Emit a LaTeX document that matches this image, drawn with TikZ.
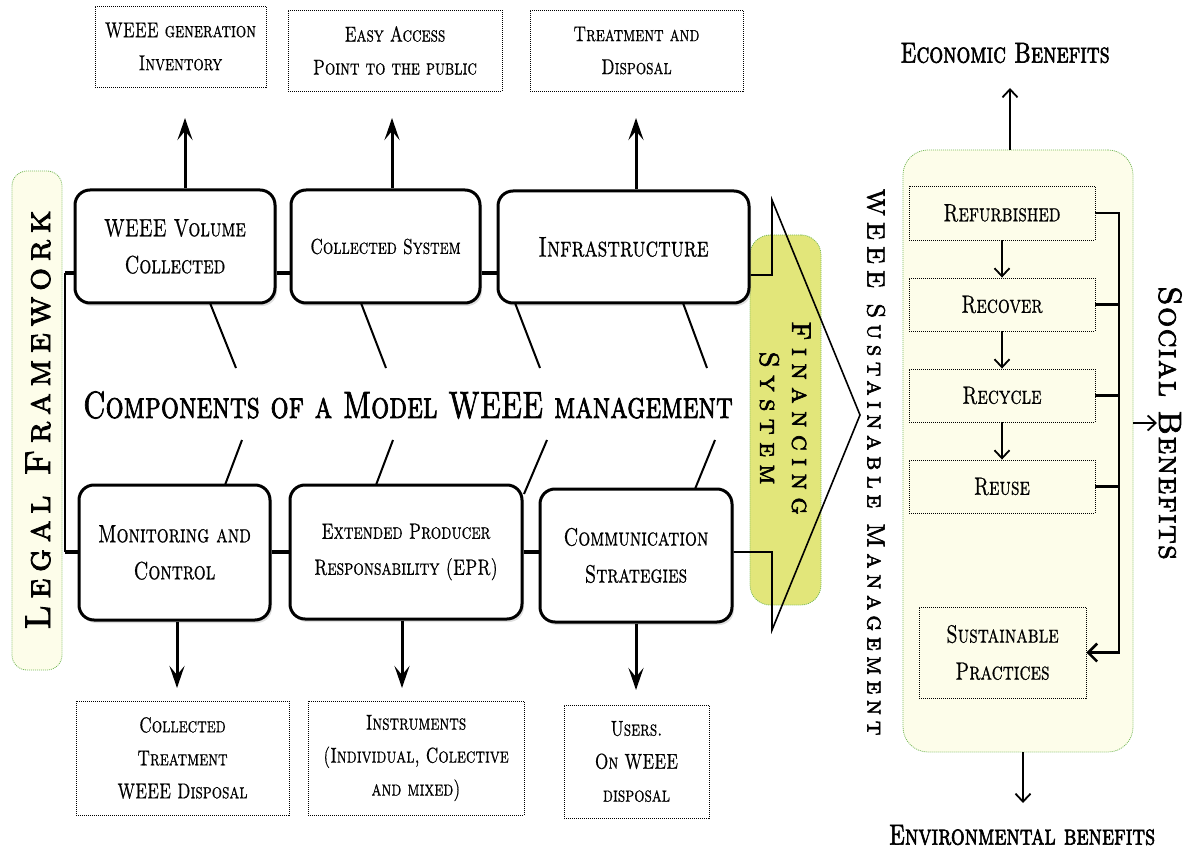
\documentclass[tikz,border=0pt]{standalone}
\usepackage{fontspec}
\usetikzlibrary{arrows.meta,shadows,calc}
\newfontfamily\scf{lmromancaps10-regular.otf}[FakeStretch=0.75,FakeBold=0.6]
\newfontfamily\scfb{lmromancaps10-regular.otf}[FakeStretch=0.75,FakeBold=2]
\newfontfamily\scft{lmromancaps10-regular.otf}[FakeStretch=0.75,FakeBold=1.8]
\newfontfamily\scflegal{lmromancaps10-regular.otf}[FakeBold=2.4,LetterSpace=18]
\newfontfamily\scffin{lmromancaps10-regular.otf}[FakeBold=2.4,LetterSpace=27]
\newfontfamily\scfweee{lmromancaps10-regular.otf}[FakeBold=2.2,LetterSpace=22]
\newfontfamily\scfsoc{lmromancaps10-regular.otf}[FakeBold=2.2,LetterSpace=4]
\definecolor{cream}{RGB}{253,253,234}
\definecolor{fgreen}{RGB}{120,185,90}
\definecolor{finyel}{RGB}{226,230,122}
\begin{document}
\begin{tikzpicture}[x=1pt,y=-1pt,
  mainbox/.style={draw, line width=3pt, rounded corners=15pt, fill=white, align=center, inner sep=0pt,
    drop shadow={shadow xshift=2pt,shadow yshift=-3pt,opacity=0.25},
    font=\scf\fontsize{25}{37}\selectfont},
  dotbox/.style={draw, dash pattern=on 1pt off 1pt, line width=0.9pt, align=center, inner sep=0pt,
    font=\scf\fontsize{21.5}{33}\selectfont},
  panelbox/.style={draw, dash pattern=on 1pt off 1pt, line width=0.9pt, align=center, inner sep=0pt,
    font=\scf\fontsize{25}{37}\selectfont},
  greenbox/.style={draw=fgreen, dash pattern=on 1pt off 1pt, line width=0.8pt, fill=cream, inner sep=0pt},
  bigarr/.style={line width=3pt, -{Stealth[length=22pt,width=15pt,inset=9pt]}},
  thinarr/.style={line width=1.8pt, -{Straight Barb[length=8pt,width=15pt]}},
  conn/.style={line width=3.5pt},
  fish/.style={line width=2pt},
  chev/.style={line width=1.6pt, line join=miter},
  brk/.style={line width=2.5pt},
  headtxt/.style={font=\scfb\fontsize{29}{34}\selectfont, inner sep=0pt}
]
\useasboundingbox (0,0) rectangle (1194,850);

% legal framework
\node[greenbox, rounded corners=15pt, minimum width=50pt, minimum height=499pt] (legalbox) at (37,420.5) {};
\node[font=\scflegal\fontsize{36}{40}\selectfont, rotate=90, inner sep=0pt] (legal) at (38,420) {Legal Framework};

% right panel background
\node[greenbox, rounded corners=25pt, minimum width=230pt, minimum height=602pt] (P) at (1018,451) {};

% financing box
\node[draw=fgreen, dash pattern=on 1pt off 1pt, line width=0.8pt, fill=finyel, rounded corners=20pt,
      minimum width=71pt, minimum height=370pt, inner sep=0pt] (fin) at (785.5,420) {};

% main boxes
\node[mainbox, minimum width=200pt, minimum height=113pt] (A) at (175,246.5) {WEEE Volume\\Collected};
\node[mainbox, minimum width=189pt, minimum height=113pt, font=\scf\fontsize{21.5}{30}\selectfont] (B) at (385.5,246.5) {Collected System};
\node[mainbox, minimum width=251pt, minimum height=112pt, font=\scf\fontsize{28.5}{37}\selectfont] (C) at (623.5,247) {Infrastructure};
\node[mainbox, minimum width=191pt, minimum height=135pt] (D1) at (174.5,552.5) {Monitoring and\\Control};
\node[mainbox, minimum width=232pt, minimum height=134pt, font=\scf\fontsize{22}{36}\selectfont] (D2) at (406,552) {Extended Producer\\Responsability (EPR)};
\node[mainbox, minimum width=192pt, minimum height=133pt] (D3) at (636,555.5) {Communication\\Strategies};

% top dotted boxes
\node[dotbox, minimum width=171pt, minimum height=81pt] (T1) at (180.5,46.5) {WEEE generation\\Inventory};
\node[dotbox, minimum width=214pt, minimum height=81pt] (T2) at (395,50.5) {Easy Access\\Point to the public};
\node[dotbox, minimum width=213pt, minimum height=81pt] (T3) at (636.5,50.5) {Treatment and\\Disposal};

% bottom dotted boxes
\node[dotbox, minimum width=213pt, minimum height=114pt] (E1) at (182.5,758) {Collected\\Treatment\\WEEE Disposal};
\node[dotbox, minimum width=216pt, minimum height=114pt] (E2) at (416,758) {Instruments\\(Individual, Colective\\and mixed)};
\node[dotbox, minimum width=145pt, minimum height=113pt] (E3) at (636.5,761.5) {Users.\\On WEEE\\disposal};

% title
\node[font=\scft\fontsize{38}{44}\selectfont, inner sep=0pt] (title) at (408,405) {Components of a Model WEEE management};

% arrows up/down
\coordinate (a1) at (185,118);
\coordinate (a2) at (392,118);
\coordinate (a3) at (636,118);
\draw[bigarr] (A.north -| a1) -- (a1);
\draw[bigarr] (B.north -| a2) -- (a2);
\draw[bigarr] (C.north -| a3) -- (a3);
\coordinate (b1) at (177,688);
\coordinate (b2) at (402,688);
\coordinate (b3) at (636,690);
\draw[bigarr] (D1.south -| b1) -- (b1);
\draw[bigarr] (D2.south -| b2) -- (b2);
\draw[bigarr] (D3.south -| b3) -- (b3);

% horizontal connectors
\coordinate (v1) at (65,273);
\coordinate (v2) at (65,552);
\draw[conn] (A.west |- v1) -- (v1);
\draw[line width=2.5pt] (v1) -- (v2);
\draw[conn] (D1.west |- v2) -- (v2);
\draw[conn] (A.east |- v1) -- (B.west |- v1);
\draw[conn] (B.east |- v1) -- (C.west |- v1);
\draw[conn] (D1.east |- v2) -- (D2.west |- v2);
\draw[conn] (D2.east |- v2) -- (D3.west |- v2);

% chevron
\coordinate (h1) at (0,275);
\coordinate (ch1) at (772,200);
\coordinate (ch2) at (860,415);
\coordinate (ch3) at (772,630);
\draw[chev] (C.east |- h1) -- (ch1 |- h1) -- (ch1) -- (ch2) -- (ch3) -- (ch3 |- v2) -- (D3.east |- v2);

% fishbone diagonals
\coordinate (f1a) at (210,303); \coordinate (f1b) at (236,368);
\coordinate (f2a) at (361,303); \coordinate (f2b) at (386,368);
\coordinate (f3a) at (515,303); \coordinate (f3b) at (540,368);
\coordinate (f4a) at (683,303); \coordinate (f4b) at (707,368);
\coordinate (g1a) at (242,440); \coordinate (g1b) at (225,485);
\coordinate (g2a) at (393,440); \coordinate (g2b) at (376,485);
\coordinate (g3a) at (547,440); \coordinate (g3b) at (524,494);
\coordinate (g4a) at (715,440); \coordinate (g4b) at (695,489);
\foreach \p in {f1,f2,f3,f4,g1,g2,g3,g4} {\draw[fish] (\p a) -- (\p b);}

% financing text
\node[font=\scffin\fontsize{27}{32}\selectfont, rotate=-90, align=center, inner sep=0pt] (fintxt) at (785,418) {Financing\\System};

% WEEE sustainable management
\node[font=\scfweee\fontsize{25}{30}\selectfont, rotate=-90, inner sep=0pt] (wsm) at (876,462) {WEEE Sustainable Management};

% right panel inner boxes
\node[panelbox, minimum width=186pt, minimum height=54pt] (R1) at (1002,213) {Refurbished};
\node[panelbox, minimum width=186pt, minimum height=53pt] (R2) at (1002,304.5) {Recover};
\node[panelbox, minimum width=186pt, minimum height=53pt] (R3) at (1002,395.5) {Recycle};
\node[panelbox, minimum width=186pt, minimum height=53pt] (R4) at (1002,486.5) {Reuse};
\node[panelbox, minimum width=167pt, minimum height=91pt] (SP) at (1002.5,652.5) {Sustainable\\Practices};

\draw[thinarr] (R1.south) -- (R2.north);
\draw[thinarr] (R2.south) -- (R3.north);
\draw[thinarr] (R3.south) -- (R4.north);

\coordinate (bx) at (1119,0);
\draw[brk, -{Straight Barb[length=9pt,width=18pt]}] (R1.east) -- (bx |- R1.east) -- (bx |- SP.east) -- (SP.east);
\draw[brk] (R2.east) -- (bx |- R2.east);
\draw[brk] (R3.east) -- (bx |- R3.east);
\draw[brk] (R4.east) -- (bx |- R4.east);

% benefits
\node[headtxt] (econ) at (1005,53) {Economic Benefits};
\node[headtxt] (envi) at (1022,835) {Environmental benefits};
\node[font=\scfsoc\fontsize{32}{36}\selectfont, rotate=-90, inner sep=0pt] (soc) at (1170,423) {Social Benefits};
\coordinate (e1) at (1010,88);
\coordinate (e2) at (1023,803);
\coordinate (s1) at (1157,423);
\draw[thinarr] (P.north -| e1) -- (e1);
\draw[thinarr] (P.south -| e2) -- (e2);
\draw[thinarr] (P.east |- s1) -- (s1);
\end{tikzpicture}
\end{document}
